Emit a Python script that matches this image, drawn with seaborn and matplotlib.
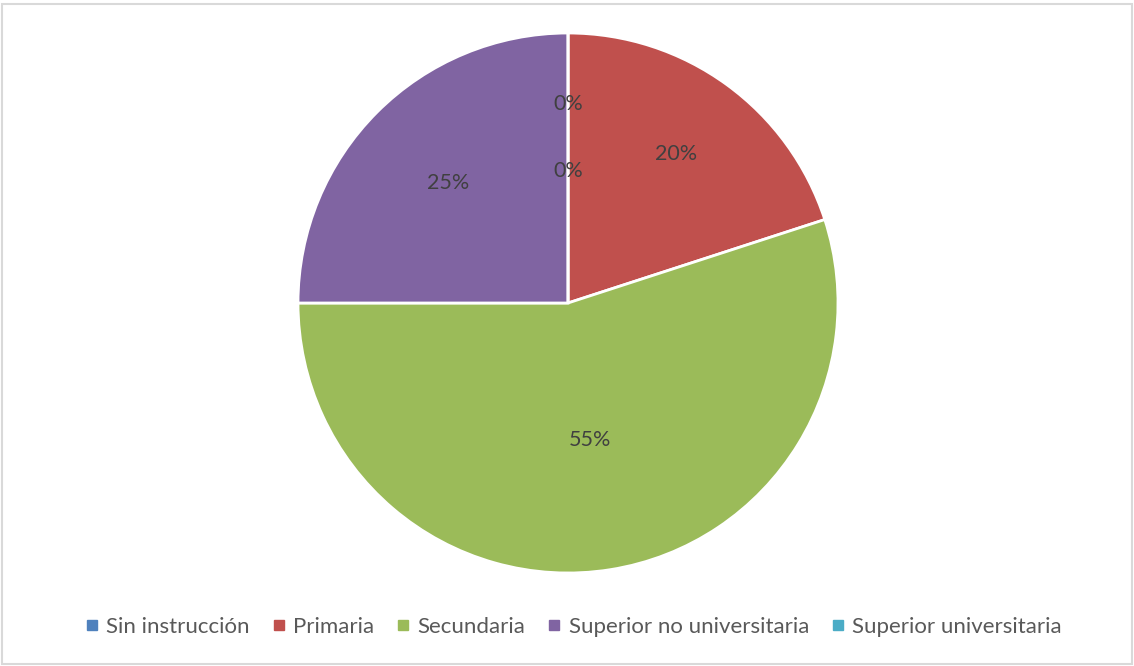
import matplotlib
matplotlib.use("Agg")
import matplotlib.pyplot as plt
from matplotlib.lines import Line2D
from matplotlib.patches import Rectangle
import seaborn as sns
import numpy as np

categories = ["Sin instrucción", "Primaria", "Secundaria",
              "Superior no universitaria", "Superior universitaria"]
shares = [0, 20, 55, 25, 0]
label_texts = ["0%", "20%", "55%", "25%", "0%"]
colors = ["#4F81BD", "#C0504D", "#9BBB59", "#8064A2", "#4BACC6"]
# radial placement of each percentage label (fraction of the radius)
label_radius = [0.49, 0.68, 0.515, 0.63, 0.737]

sns.set_theme(style="white")
plt.rcParams["font.family"] = ["Lato", "DejaVu Sans"]

W, H = 1134, 666
fig = plt.figure(figsize=(W / 100, H / 100), dpi=100)
fig.patch.set_facecolor("white")

# light frame around the chart area
fig.add_artist(Rectangle((2 / W, 2 / H), (W - 4) / W, (H - 6) / H,
                         transform=fig.transFigure, fill=False,
                         edgecolor="#D9D9D9", linewidth=1.5))

cx, cy, r = 568, 303, 270
ax = fig.add_axes([(cx - r) / W, (H - cy - r) / H, 2 * r / W, 2 * r / H])

ax.pie(shares, colors=colors, startangle=90, counterclock=False, radius=1,
       wedgeprops=dict(edgecolor="white", linewidth=2))
ax.set_xlim(-1, 1)
ax.set_ylim(-1, 1)
ax.set_aspect("equal")
ax.axis("off")

total = float(sum(shares))
start = 90.0
for val, txt, rad in zip(shares, label_texts, label_radius):
    sweep = val / total * 360
    mid = np.deg2rad(start - sweep / 2)
    ax.text(rad * np.cos(mid), rad * np.sin(mid), txt, ha="center",
            va="center", fontsize=15.5, color="#404040")
    start -= sweep

handles = [Line2D([0], [0], marker="s", linestyle="none", markersize=6.5,
                  markerfacecolor=c, markeredgecolor=c) for c in colors]
fig.legend(handles, categories, loc="center", bbox_to_anchor=(573 / W, (H - 627) / H),
           ncol=5, frameon=False, fontsize=16, labelcolor="#595959",
           handletextpad=0.3, columnspacing=0.95, handlelength=0.7)

fig.savefig("out.png", dpi=100)
